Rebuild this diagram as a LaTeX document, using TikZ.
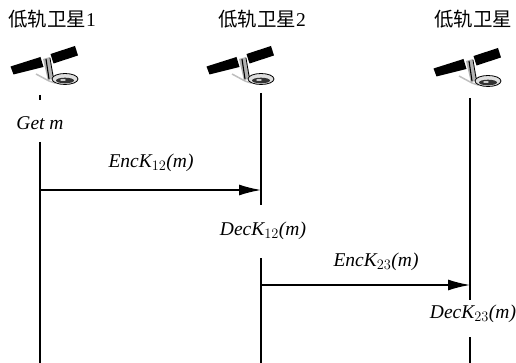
\documentclass[tikz,border=0pt]{standalone}
\usepackage{fontspec}
\setmainfont{Liberation Serif}
\newfontfamily\cjk{Noto Sans CJK SC}
\usetikzlibrary{arrows.meta, positioning}

\tikzset{
  lifeline/.style={line width=1.4pt},
  msg/.style={line width=1.4pt, -{Latex[length=22pt, width=11pt]}},
  sattitle/.style={font=\fontsize{19.5}{22}\selectfont},
  steplabel/.style={font=\itshape\fontsize{19.5}{22}\selectfont, inner sep=0pt},
  % small satellite icon
  satellite/.pic={
    \fill[black] (-35.5,0.5) -- (-5.5,-9) -- (-2.5,1) -- (-32.5,8.5) -- cycle;
    \fill[black] (4.5,-12) -- (29,-20) -- (32,-10.5) -- (7.5,-2.5) -- cycle;
    \draw[gray!50, line width=1.5pt] (-10,8) -- (3,15) -- (9,17);
    \fill[gray!60] (-3,-7) -- (4,-9) -- (8,11) -- (2,15) -- cycle;
    \draw[black, line width=1.1pt] (0,-7) -- (3,13);
    \draw[black, line width=0.8pt] (4,-8) -- (7,10);
    \filldraw[fill=gray!25, draw=black, line width=0.8pt] (19,13) ellipse (13 and 5.5);
    \fill[black!80] (19,14.5) ellipse (9 and 2.8);
    \fill[gray!40] (17,14) ellipse (3 and 1);
  }
}

\begin{document}
\begin{tikzpicture}[x=1pt, y=-1pt]
  \useasboundingbox (0,0) rectangle (516,363);

  % Satellite names
  \node[sattitle] (sat1) at (52,19) {{\cjk 低轨卫星}1};
  \node[sattitle] (sat2) at (262,19) {{\cjk 低轨卫星}2};
  \node[sattitle] (sat3) at (473,19) {{\cjk 低轨卫星}};

  % Icons
  \pic at (46,66) {satellite};
  \pic at (242,66) {satellite};
  \pic at (469,68) {satellite};

  % Steps on the lifelines
  \node[steplabel] (get) at (40,123) {Get m};
  \node[steplabel] (dec12) at (263,231) {DecK$_{\scriptstyle 12}$(m)};
  \node[steplabel] (dec23) at (473,314) {DecK$_{\scriptstyle 23}$(m)};

  % Lifeline ends
  \coordinate (a0) at (40,95);
  \coordinate (a1) at (40,100);
  \coordinate (a2) at (40,142);
  \coordinate (a3) at (40,363);
  \coordinate (b0) at (261,93);
  \coordinate (b1) at (261,205);
  \coordinate (b2) at (261,258);
  \coordinate (b3) at (261,363);
  \coordinate (c0) at (470,98);
  \coordinate (c1) at (470,300);
  \coordinate (c2) at (470,337);
  \coordinate (c3) at (470,363);

  % Lifelines
  \draw[lifeline] (a0) -- (a1);
  \draw[lifeline] (a2) -- (a3);
  \draw[lifeline] (b0) -- (b1);
  \draw[lifeline] (b2) -- (b3);
  \draw[lifeline] (c0) -- (c1);
  \draw[lifeline] (c2) -- (c3);

  % Messages
  \coordinate (m1s) at (40,190);
  \coordinate (m1e) at (261,190);
  \coordinate (m2s) at (261,285);
  \coordinate (m2e) at (470,285);
  \draw[msg] (m1s) -- (m1e);
  \draw[msg] (m2s) -- (m2e);
  \node[steplabel] (enc12) at (151,163) {EncK$_{\scriptstyle 12}$(m)};
  \node[steplabel] (enc23) at (376,262) {EncK$_{\scriptstyle 23}$(m)};
\end{tikzpicture}
\end{document}
